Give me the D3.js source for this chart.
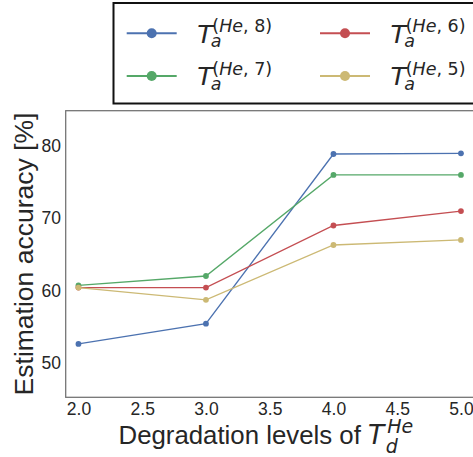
<!DOCTYPE html>
<html><head><meta charset="utf-8">
<script src="https://cdn.jsdelivr.net/npm/d3@7"></script>
<style>body{margin:0;background:#fff}svg{display:block}</style>
</head><body>
<script>
const xValues = [2.0, 3.0, 4.0, 5.0];
const seriesNames = ["(He, 8)", "(He, 7)", "(He, 6)", "(He, 5)"];
const seriesColors = ["#4C72B0", "#55A868", "#C44E52", "#CCB974"];
const s8 = [52.6, 55.4, 78.9, 79.0];
const s7 = [60.7, 62.0, 76.0, 76.0];
const s6 = [60.4, 60.4, 69.0, 71.0];
const s5 = [60.4, 58.7, 66.3, 67.0];
const seriesValues = [s8, s7, s6, s5];
const xTicks = [2.0, 2.5, 3.0, 3.5, 4.0, 4.5, 5.0];
const yTicks = [50, 60, 70, 80];

const W = 473, H = 457;
const svg = d3.select("body").append("svg").attr("width", W).attr("height", H);
const L = 65.7, R = 473.7, T = 110.7, B = 397.3;
const x = d3.scaleLinear().domain([1.9, 5.1]).range([L, R]);
const y = d3.scaleLinear().domain([45.2, 84.9]).range([B, T]);
const txt = "#262626";
const sans = "'Liberation Sans', Arial, sans-serif";
const math = "'DejaVu Sans', sans-serif";

// axes
const xa = svg.append("g").attr("transform", `translate(0,${B})`)
  .call(d3.axisBottom(x).tickValues(xTicks).tickFormat(d3.format(".1f")).tickSize(0).tickPadding(0));
xa.select(".domain").remove();
xa.selectAll("text").attr("dy", null).attr("y", 17.7).attr("fill", txt)
  .style("font-family", sans).style("font-size", "17.5px");
const ya = svg.append("g").attr("transform", `translate(${L},0)`)
  .call(d3.axisLeft(y).tickValues(yTicks).tickSize(0).tickPadding(4.7));
ya.select(".domain").remove();
ya.selectAll("text").attr("fill", txt).style("font-family", sans).style("font-size", "17.5px");

svg.append("rect").attr("x", L).attr("y", T).attr("width", R - L).attr("height", B - T)
  .attr("fill", "none").attr("stroke", "#707070").attr("stroke-width", 1.25);

// lines
const line = d3.line().x((d, i) => x(xValues[i])).y(d => y(d));
seriesValues.forEach((vals, k) => {
  svg.append("path").datum(vals).attr("d", line).attr("fill", "none")
    .attr("stroke", seriesColors[k]).attr("stroke-width", 1.3);
  svg.selectAll(null).data(vals).enter().append("circle")
    .attr("cx", (d, i) => x(xValues[i])).attr("cy", d => y(d)).attr("r", 2.9)
    .attr("fill", seriesColors[k]);
});

// measure helper
function measure(str, size, fam, style) {
  const t = svg.append("text").text(str).style("font-family", fam)
    .style("font-size", size + "px").style("font-style", style || "normal");
  const w = t.node().getComputedTextLength();
  t.remove();
  return w;
}
// append T_sub^sup as tspans into a text element
function mathT(t, bigSize, sub, sup, subSize, supSize, subDy, supDy, subDx, supDx) {
  t.append("tspan").text("T").style("font-family", math).style("font-style", "italic")
    .style("font-size", bigSize + "px");
  const wSub = measure(sub, subSize, math, "italic");
  t.append("tspan").attr("dx", subDx).attr("dy", subDy).text(sub)
    .style("font-family", math).style("font-style", "italic").style("font-size", subSize + "px");
  const re = /([A-Za-z]+)|([^A-Za-z]+)/g; let m; let first = true;
  while ((m = re.exec(sup)) !== null) {
    const ts = t.append("tspan").text(m[0]).style("font-family", math)
      .style("font-style", m[1] ? "italic" : "normal").style("font-size", supSize + "px");
    if (first) { ts.attr("dx", -wSub + supDx).attr("dy", supDy - subDy); first = false; }
  }
}

// axis labels
svg.append("text").attr("transform", `translate(33.3,${(T + B) / 2}) rotate(-90)`)
  .attr("text-anchor", "middle").attr("fill", txt)
  .style("font-family", sans).style("font-size", "26.5px").text("Estimation accuracy [%]");
const xl = svg.append("text").attr("x", 118.5).attr("y", 444.3).attr("fill", txt)
  .style("font-family", sans).style("font-size", "25.8px");
xl.append("tspan").text("Degradation levels of ");
mathT(xl, 26.5, "d", "He", 19, 19, 9, -11, 1.5, 1.5);

// legend
svg.append("rect").attr("x", 113.5).attr("y", 3).attr("width", 362).attr("height", 100.5)
  .attr("fill", "#fff").attr("stroke", "#111").attr("stroke-width", 2);
const legPos = [[126.7, 33.3], [126.7, 76], [320, 33.3], [320, 76]];
seriesNames.forEach((nm, k) => {
  const [lx, ly] = legPos[k];
  const g = svg.append("g");
  g.append("line").attr("x1", lx).attr("x2", lx + 50).attr("y1", ly).attr("y2", ly)
    .attr("stroke", seriesColors[k]).attr("stroke-width", 2);
  g.append("circle").attr("cx", lx + 25).attr("cy", ly).attr("r", 5).attr("fill", seriesColors[k]);
  const t = g.append("text").attr("x", lx + 70.5).attr("y", ly + 9.4).attr("fill", txt);
  mathT(t, 25.6, "a", nm, 17.5, 17.5, 4.6, -10.3, -2, 1.5);
});
</script>
</body></html>
